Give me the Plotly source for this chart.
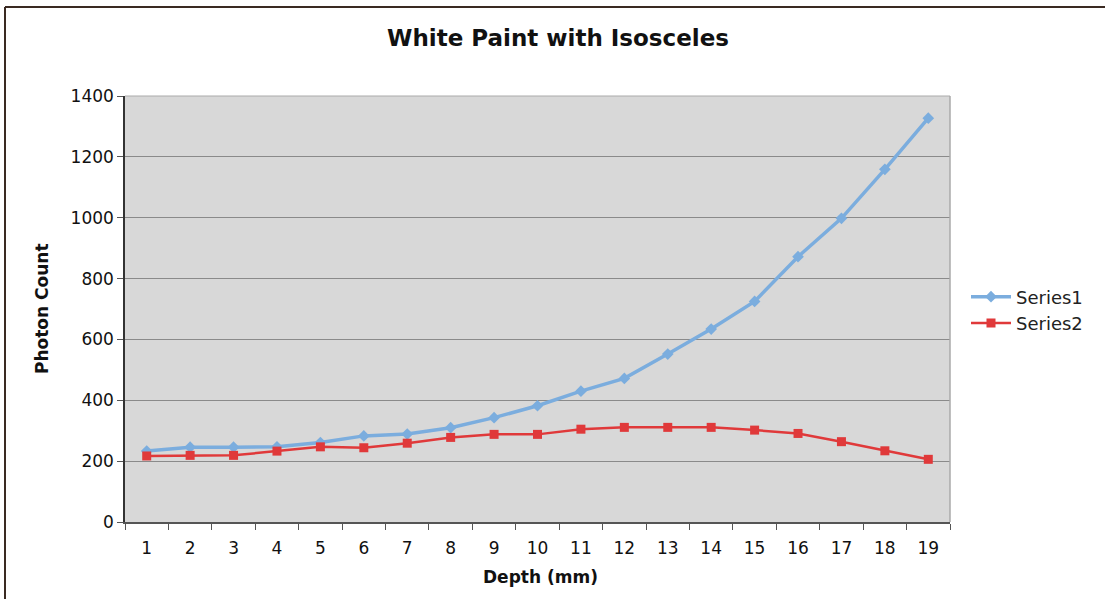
import plotly.graph_objects as go

depth = [str(i) for i in range(1, 20)]
series1 = [233, 246, 246, 247, 261, 283, 289, 310, 343, 382, 430, 472,
           552, 634, 725, 872, 998, 1159, 1327]
series2 = [217, 219, 219, 233, 247, 244, 259, 278, 288, 288, 305, 311,
           311, 311, 302, 291, 264, 234, 206]
y_ticks = [0, 200, 400, 600, 800, 1000, 1200, 1400]

FONT = "DejaVu Sans"
W, H = 1105, 599
L, R, T, B = 125, 155, 96, 77
pw, ph = W - L - R, H - T - B


def px_x(x):
    return (x - L) / pw


def px_y(y):
    return (H - B - y) / ph


fig = go.Figure()
fig.add_trace(go.Scatter(
    x=depth, y=series1, name="Series1", mode="lines+markers",
    line=dict(color="#7badde", width=3.5),
    marker=dict(symbol="diamond", size=9, color="#7badde"),
))
fig.add_trace(go.Scatter(
    x=depth, y=series2, name="Series2", mode="lines+markers",
    line=dict(color="#e0393a", width=2.5),
    marker=dict(symbol="square", size=9, color="#e0393a"),
))

fig.update_layout(
    width=W, height=H,
    margin=dict(l=L, r=R, t=T, b=B),
    paper_bgcolor="white",
    plot_bgcolor="#d8d8d8",
    font=dict(family=FONT, size=17, color="#111111"),
    title=dict(text="<b>White Paint with Isosceles</b>", x=558 / W, xref="container",
               y=1 - 38 / H, yref="container", yanchor="middle", xanchor="center",
               font=dict(family=FONT, size=23, color="#111111")),
    showlegend=True,
    legend=dict(x=px_x(966), y=px_y(310), xanchor="left", yanchor="middle",
                bgcolor="rgba(0,0,0,0)", font=dict(family=FONT, size=18, color="#222222"),
                tracegroupgap=0, itemwidth=40),
    xaxis=dict(type="category", range=[-0.5, 18.5], tickson="boundaries",
               ticks="outside", ticklen=6, tickcolor="#555555",
               showline=True, linecolor="#555555", linewidth=1.5,
               showgrid=False, tickfont=dict(family=FONT, size=17), ticklabelstandoff=10),
    yaxis=dict(range=[0, 1400], tickvals=y_ticks, ticks="outside", ticklen=6,
               tickcolor="#555555", showline=True, linecolor="#333333", linewidth=1.5,
               showgrid=True, gridcolor="#8a8a8a", gridwidth=1.2, zeroline=False,
               tickfont=dict(family=FONT, size=17)),
    annotations=[
        dict(text="<b>Photon Count</b>", x=px_x(42), xref="paper", y=0.5, yref="paper",
             xanchor="center", yanchor="middle",
             showarrow=False, textangle=-90, font=dict(family=FONT, size=17, color="#111111")),
        dict(text="<b>Depth (mm)</b>", x=px_x(540), xref="paper", y=px_y(577), yref="paper",
             xanchor="center", yanchor="middle",
             showarrow=False, font=dict(family=FONT, size=17, color="#111111")),
    ],
)

# Right-hand and top borders of the plot area
fig.add_shape(type="line", xref="paper", yref="paper", x0=1, x1=1, y0=0, y1=1,
              line=dict(color="#aaaaaa", width=1.5))
fig.add_shape(type="line", xref="paper", yref="paper", x0=1, x1=0, y0=1, y1=1,
              line=dict(color="#aaaaaa", width=1))
# Outer chart frame (left and top edges)
fig.add_shape(type="line", xref="paper", yref="paper",
              x0=px_x(5), x1=px_x(5), y0=px_y(599), y1=px_y(7),
              line=dict(color="#3a2a22", width=2))
fig.add_shape(type="line", xref="paper", yref="paper",
              x0=px_x(5), x1=px_x(1105), y0=px_y(7), y1=px_y(7),
              line=dict(color="#3a2a22", width=2))

fig.write_html("out.html")
